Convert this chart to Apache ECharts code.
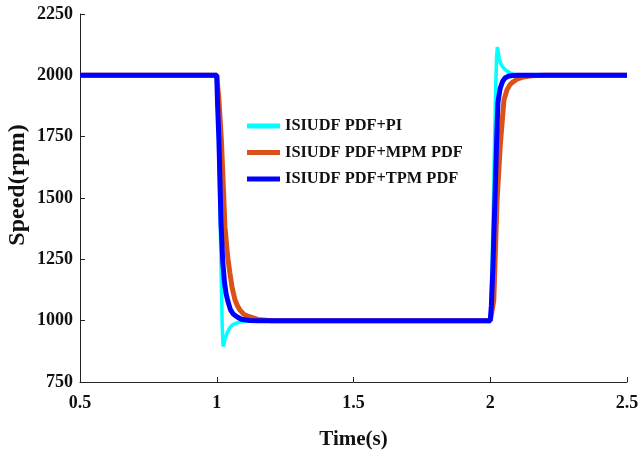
<!DOCTYPE html>
<html>
<head>
<meta charset="utf-8">
<script src="https://cdn.jsdelivr.net/npm/echarts@6/dist/echarts.min.js"></script>
<style>html,body{margin:0;padding:0;background:#fff}#c{width:641px;height:451px}</style>
</head>
<body>
<div id="c"></div>
<script>
// Series names
var seriesNames = ['ISIUDF PDF+PI', 'ISIUDF PDF+MPM PDF', 'ISIUDF PDF+TPM PDF'];

// ISIUDF PDF+PI (cyan)
var piT = [0.5, 1.0, 1.004, 1.010, 1.016, 1.020, 1.023, 1.026, 1.030, 1.038, 1.048, 1.060, 1.085, 1.12,
           2.0, 2.005, 2.011, 2.016, 2.020, 2.023, 2.026, 2.029, 2.033, 2.040, 2.047, 2.060, 2.075, 2.095, 2.12, 2.5];
var piV = [2000, 2000, 1850, 1550, 1200, 980, 895, 905, 925, 950, 972, 985, 995, 1000,
           1000, 1150, 1450, 1750, 1950, 2070, 2115, 2100, 2065, 2045, 2032, 2018, 2008, 2002, 2000, 2000];

// ISIUDF PDF+MPM PDF (orange)
var mpmT = [0.5, 1.0, 1.008, 1.017, 1.030, 1.040, 1.048, 1.057, 1.067, 1.076, 1.085, 1.10, 1.122, 1.15, 1.2,
            2.0, 2.005, 2.013, 2.025, 2.037, 2.050, 2.061, 2.072, 2.083, 2.10, 2.12, 2.15, 2.2, 2.5];
var mpmV = [2000, 2000, 1900, 1736, 1382, 1260, 1194, 1130, 1084, 1060, 1043, 1025, 1015, 1005, 1000,
            1000, 1030, 1084, 1492, 1720, 1899, 1940, 1962, 1973, 1986, 1993, 1998, 2000, 2000];

// ISIUDF PDF+TPM PDF (blue)
var tpmT = [0.5, 1.0, 1.003, 1.008, 1.0155, 1.022, 1.028, 1.034, 1.041, 1.050, 1.060, 1.075, 1.090, 1.12, 1.15,
            2.0, 2.004, 2.010, 2.017, 2.023, 2.028, 2.036, 2.045, 2.054, 2.065, 2.08, 2.1, 2.5];
var tpmV = [2000, 2000, 1880, 1736, 1400, 1240, 1160, 1110, 1078, 1045, 1027, 1015, 1006, 1001, 1000,
            1000, 1060, 1230, 1490, 1720, 1890, 1945, 1975, 1989, 1996, 1999, 2000, 2000];

var xTicks = [0.5, 1, 1.5, 2, 2.5];
var yTicks = [750, 1000, 1250, 1500, 1750, 2000, 2250];

function pairs(t, v) { return t.map(function (x, i) { return [x, v[i]]; }); }

var font = 'Liberation Serif';
var chart = echarts.init(document.getElementById('c'), null, { renderer: 'canvas' });
chart.setOption({
  animation: false,
  backgroundColor: '#fff',
  grid: { left: 80, right: 14, top: 14, bottom: 69, containLabel: false, outerBoundsMode: 'none' },
  legend: {
    orient: 'vertical',
    left: 247, top: 118, padding: 0,
    itemWidth: 33, itemHeight: 5, itemGap: 10.5,
    icon: 'rect',
    textStyle: { fontFamily: font, fontWeight: 'bold', fontSize: 16.4, color: '#111', lineHeight: 16 },
    data: seriesNames
  },
  xAxis: {
    type: 'value', min: xTicks[0], max: xTicks[xTicks.length - 1], interval: 0.5,
    name: 'Time(s)', nameLocation: 'middle', nameGap: 47, nameMoveOverlap: false,
    nameTextStyle: { fontFamily: font, fontWeight: 'bold', fontSize: 21, color: '#111' },
    axisLine: { show: true, onZero: false, lineStyle: { color: '#222', width: 1 } },
    axisTick: { show: true, inside: true, length: 5, lineStyle: { color: '#222' } },
    axisLabel: { margin: 12, fontFamily: font, fontWeight: 'bold', fontSize: 18, color: '#111',
      formatter: function (v) { return String(v); } },
    splitLine: { show: false }
  },
  yAxis: {
    type: 'value', min: yTicks[0], max: yTicks[yTicks.length - 1], interval: 250,
    name: 'Speed(rpm)', nameLocation: 'middle', nameGap: 50, nameMoveOverlap: false,
    nameTextStyle: { fontFamily: font, fontWeight: 'bold', fontSize: 24, color: '#111', padding: [0, 0, 0, 26] },
    axisLine: { show: true, onZero: false, lineStyle: { color: '#222', width: 1 } },
    axisTick: { show: true, inside: true, length: 5, lineStyle: { color: '#222' } },
    axisLabel: { margin: 7, fontFamily: font, fontWeight: 'bold', fontSize: 18, color: '#111',
      formatter: function (v) { return String(v); } },
    splitLine: { show: false }
  },
  series: [
    { name: seriesNames[0], type: 'line', data: pairs(piT, piV), showSymbol: false, symbol: 'none',
      lineStyle: { color: '#00FFFF', width: 3.5 }, itemStyle: { color: '#00FFFF' } },
    { name: seriesNames[1], type: 'line', data: pairs(mpmT, mpmV), showSymbol: false, symbol: 'none',
      lineStyle: { color: '#D95319', width: 5 }, itemStyle: { color: '#D95319' } },
    { name: seriesNames[2], type: 'line', data: pairs(tpmT, tpmV), showSymbol: false, symbol: 'none',
      lineStyle: { color: '#0000FF', width: 5 }, itemStyle: { color: '#0000FF' } }
  ]
});
</script>
</body>
</html>
